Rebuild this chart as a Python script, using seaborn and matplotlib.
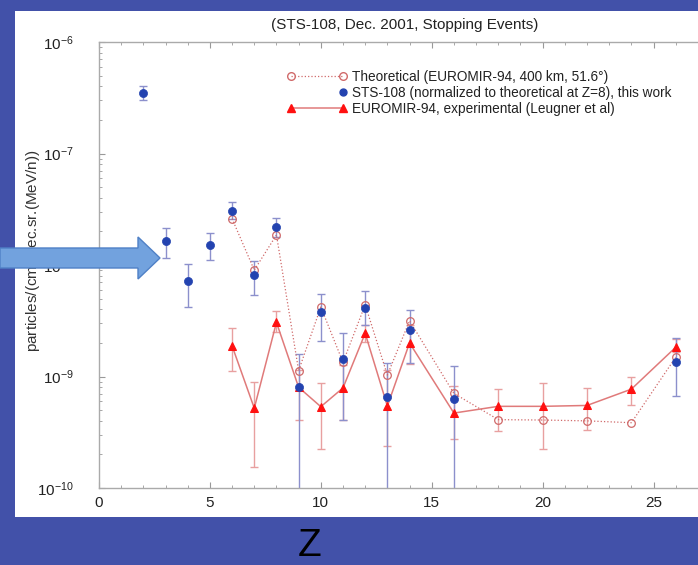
import matplotlib
matplotlib.use("Agg")
import matplotlib.pyplot as plt
from matplotlib.lines import Line2D
from matplotlib.legend_handler import HandlerLine2D
from matplotlib.patches import Polygon, Rectangle
from matplotlib.ticker import MultipleLocator, LogLocator
import seaborn as sns

sns.set_style("ticks")
plt.rcParams["font.family"] = ["Liberation Sans", "DejaVu Sans"]

# STS-108 (normalized to theoretical at Z=8)
sts_z = [2, 3, 4, 5, 6, 7, 8, 9, 10, 11, 12, 13, 14, 16, 26]
sts_val = [3.49e-7, 1.64e-8, 7.2e-9, 1.51e-8, 3.07e-8, 8.1e-9, 2.18e-8, 8.0e-10,
           3.79e-9, 1.44e-9, 4.14e-9, 6.5e-10, 2.61e-9, 6.25e-10, 1.34e-9]
sts_hi = [4.03e-7, 2.15e-8, 1.02e-8, 1.92e-8, 3.65e-8, 1.09e-8, 2.62e-8, 1.59e-9,
          5.5e-9, 2.47e-9, 5.8e-9, 1.31e-9, 3.95e-9, 1.25e-9, 2.2e-9]
sts_lo = [3.02e-7, 1.16e-8, 4.2e-9, 1.11e-8, 2.6e-8, 5.4e-9, 1.8e-8, 1e-11,
          2.09e-9, 4.1e-10, 2.9e-9, 1e-11, 1.31e-9, 1e-11, 6.7e-10]

# Theoretical (EUROMIR-94, 400 km, 51.6 deg)
theo_z = [6, 7, 8, 9, 10, 11, 12, 13, 14, 16, 18, 20, 22, 24, 26]
theo_val = [2.6e-8, 9.0e-9, 1.86e-8, 1.13e-9, 4.2e-9, 1.34e-9, 4.4e-9, 1.03e-9,
            3.16e-9, 7.06e-10, 4.1e-10, 4.07e-10, 4.0e-10, 3.85e-10, 1.49e-9]

# EUROMIR-94 experimental (Leugner et al)
exp_z = [6, 7, 8, 9, 10, 11, 12, 13, 14, 16, 18, 20, 22, 24, 26]
exp_val = [1.88e-9, 5.2e-10, 3.06e-9, 8.0e-10, 5.36e-10, 7.9e-10, 2.44e-9, 5.43e-10,
           2.0e-9, 4.7e-10, 5.4e-10, 5.4e-10, 5.5e-10, 7.7e-10, 1.83e-9]
exp_hi = [2.7e-9, 9.0e-10, 3.9e-9, 1.14e-9, 8.8e-10, 1.27e-9, 2.9e-9, 1.14e-9,
          2.9e-9, 8.2e-10, 7.7e-10, 8.7e-10, 7.9e-10, 1.0e-9, 2.16e-9]
exp_lo = [1.12e-9, 1.53e-10, 2.52e-9, 4.07e-10, 2.22e-10, 4.1e-10, 2.05e-9, 2.38e-10,
          1.3e-9, 2.73e-10, 3.24e-10, 2.22e-10, 3.3e-10, 5.5e-10, 1.67e-9]

labels = ["Theoretical (EUROMIR-94, 400 km, 51.6°)",
          "STS-108 (normalized to theoretical at Z=8), this work",
          "EUROMIR-94, experimental (Leugner et al)"]

BLUE = "#2343b0"
BLUE_ERR = "#8c90cc"
RED = "#ff1010"
RED_LINE = "#e07a7a"
RED_ERR = "#e8a0a0"
THEO = "#d06a6a"


class RightMarkerOnly(HandlerLine2D):
    def create_artists(self, *args, **kwargs):
        arts = super().create_artists(*args, **kwargs)
        for a in arts:
            a.set_markevery([1])
        return arts


W, H = 698, 565
fig = plt.figure(figsize=(W / 100, H / 100), dpi=100)
fig.patch.set_facecolor("#4251a9")

# white slide panel
fig.patches.append(Rectangle((15 / W, 48 / H), 1, (H - 11 - 48) / H,
                             transform=fig.transFigure, facecolor="white",
                             edgecolor="none", zorder=-5))

ax = fig.add_axes([99 / W, 77 / H, 610 / W, 446 / H])
ax.set_zorder(1)
ax.set_facecolor("white")
ax.set_yscale("log")

# error bars
ax.errorbar(exp_z, exp_val,
            yerr=[[v - l for v, l in zip(exp_val, exp_lo)],
                  [h - v for v, h in zip(exp_val, exp_hi)]],
            fmt="none", ecolor=RED_ERR, elinewidth=1, capsize=3, zorder=2)
ax.errorbar(sts_z, sts_val,
            yerr=[[v - l for v, l in zip(sts_val, sts_lo)],
                  [h - v for v, h in zip(sts_val, sts_hi)]],
            fmt="none", ecolor=BLUE_ERR, elinewidth=1, capsize=3, zorder=2)

sns.lineplot(x=theo_z, y=theo_val, ax=ax, color=THEO, linestyle=":", linewidth=0.9,
             marker="o", markerfacecolor="none", markeredgecolor=THEO,
             markeredgewidth=0.9, markersize=5.5, zorder=3)
sns.lineplot(x=exp_z, y=exp_val, ax=ax, color=RED_LINE, linewidth=1.1,
             marker="^", markerfacecolor=RED, markeredgecolor=RED,
             markersize=6, zorder=4)
sns.scatterplot(x=sts_z, y=sts_val, ax=ax, color=BLUE, s=34, edgecolor=BLUE,
                linewidth=0.5, zorder=5)

ax.set_xlim(0, 27.5)
ax.set_ylim(1e-10, 1e-6)
ax.xaxis.set_major_locator(MultipleLocator(5))
ax.xaxis.set_minor_locator(MultipleLocator(1))
ax.yaxis.set_major_locator(LogLocator(base=10))
ax.yaxis.set_minor_locator(LogLocator(base=10, subs=range(2, 10)))
ax.tick_params(which="both", direction="in", top=True, right=False,
               color="#999999", labelcolor="#222222", labelsize=11)
ax.tick_params(which="major", length=4)
ax.tick_params(which="minor", length=2.5)
ax.tick_params(axis="y", pad=18)
ax.tick_params(axis="x", pad=6)
for sp in ax.spines.values():
    sp.set_color("#aaaaaa")
    sp.set_linewidth(1)
ax.set_xlabel("")
ax.set_ylabel("")

handles = [
    Line2D([], [], color=THEO, linestyle=":", linewidth=0.9, marker="o",
           markerfacecolor="none", markeredgecolor=THEO, markersize=5.5),
    Line2D([], [], linestyle="none", marker="o", color=BLUE, markersize=5),
    Line2D([], [], color=RED_LINE, linewidth=1.1, marker="^",
           markerfacecolor=RED, markeredgecolor=RED, markersize=5.5),
]
leg = ax.legend(handles, labels, loc="upper left",
                bbox_to_anchor=(280 / W, 1 - 63 / H), bbox_transform=fig.transFigure,
                frameon=False, fontsize=9.8, numpoints=2, handlelength=4.4,
                handletextpad=0.36, labelspacing=0.16, borderpad=0,
                handler_map={handles[1]: RightMarkerOnly()})
for t in leg.get_texts():
    t.set_color("#222222")

fig.text(405 / W, 1 - 25 / H, "(STS-108, Dec. 2001, Stopping Events)",
         ha="center", va="center", fontsize=11, color="#222222")
fig.text(33 / W, 1 - 251 / H, "particles/(cm$^{\\mathregular{2}}$.sec.sr.(MeV/n))",
         rotation=90, ha="center", va="center", fontsize=11, color="#333333")
fig.text(310 / W, 1 - 546 / H, "Z", ha="center", va="center", fontsize=28,
         color="black")

# blue arrow pointing at the plot
pts = [(0, 248), (138, 248), (138, 237), (160, 258), (138, 279), (138, 268), (0, 268)]
arrow = Polygon([(x / W, 1 - y / H) for x, y in pts], closed=True,
                transform=fig.transFigure, facecolor="#72a2de",
                edgecolor="#4f80c6", linewidth=1, zorder=10)
fig.patches.append(arrow)

fig.savefig("out.png", dpi=100, facecolor=fig.get_facecolor())
